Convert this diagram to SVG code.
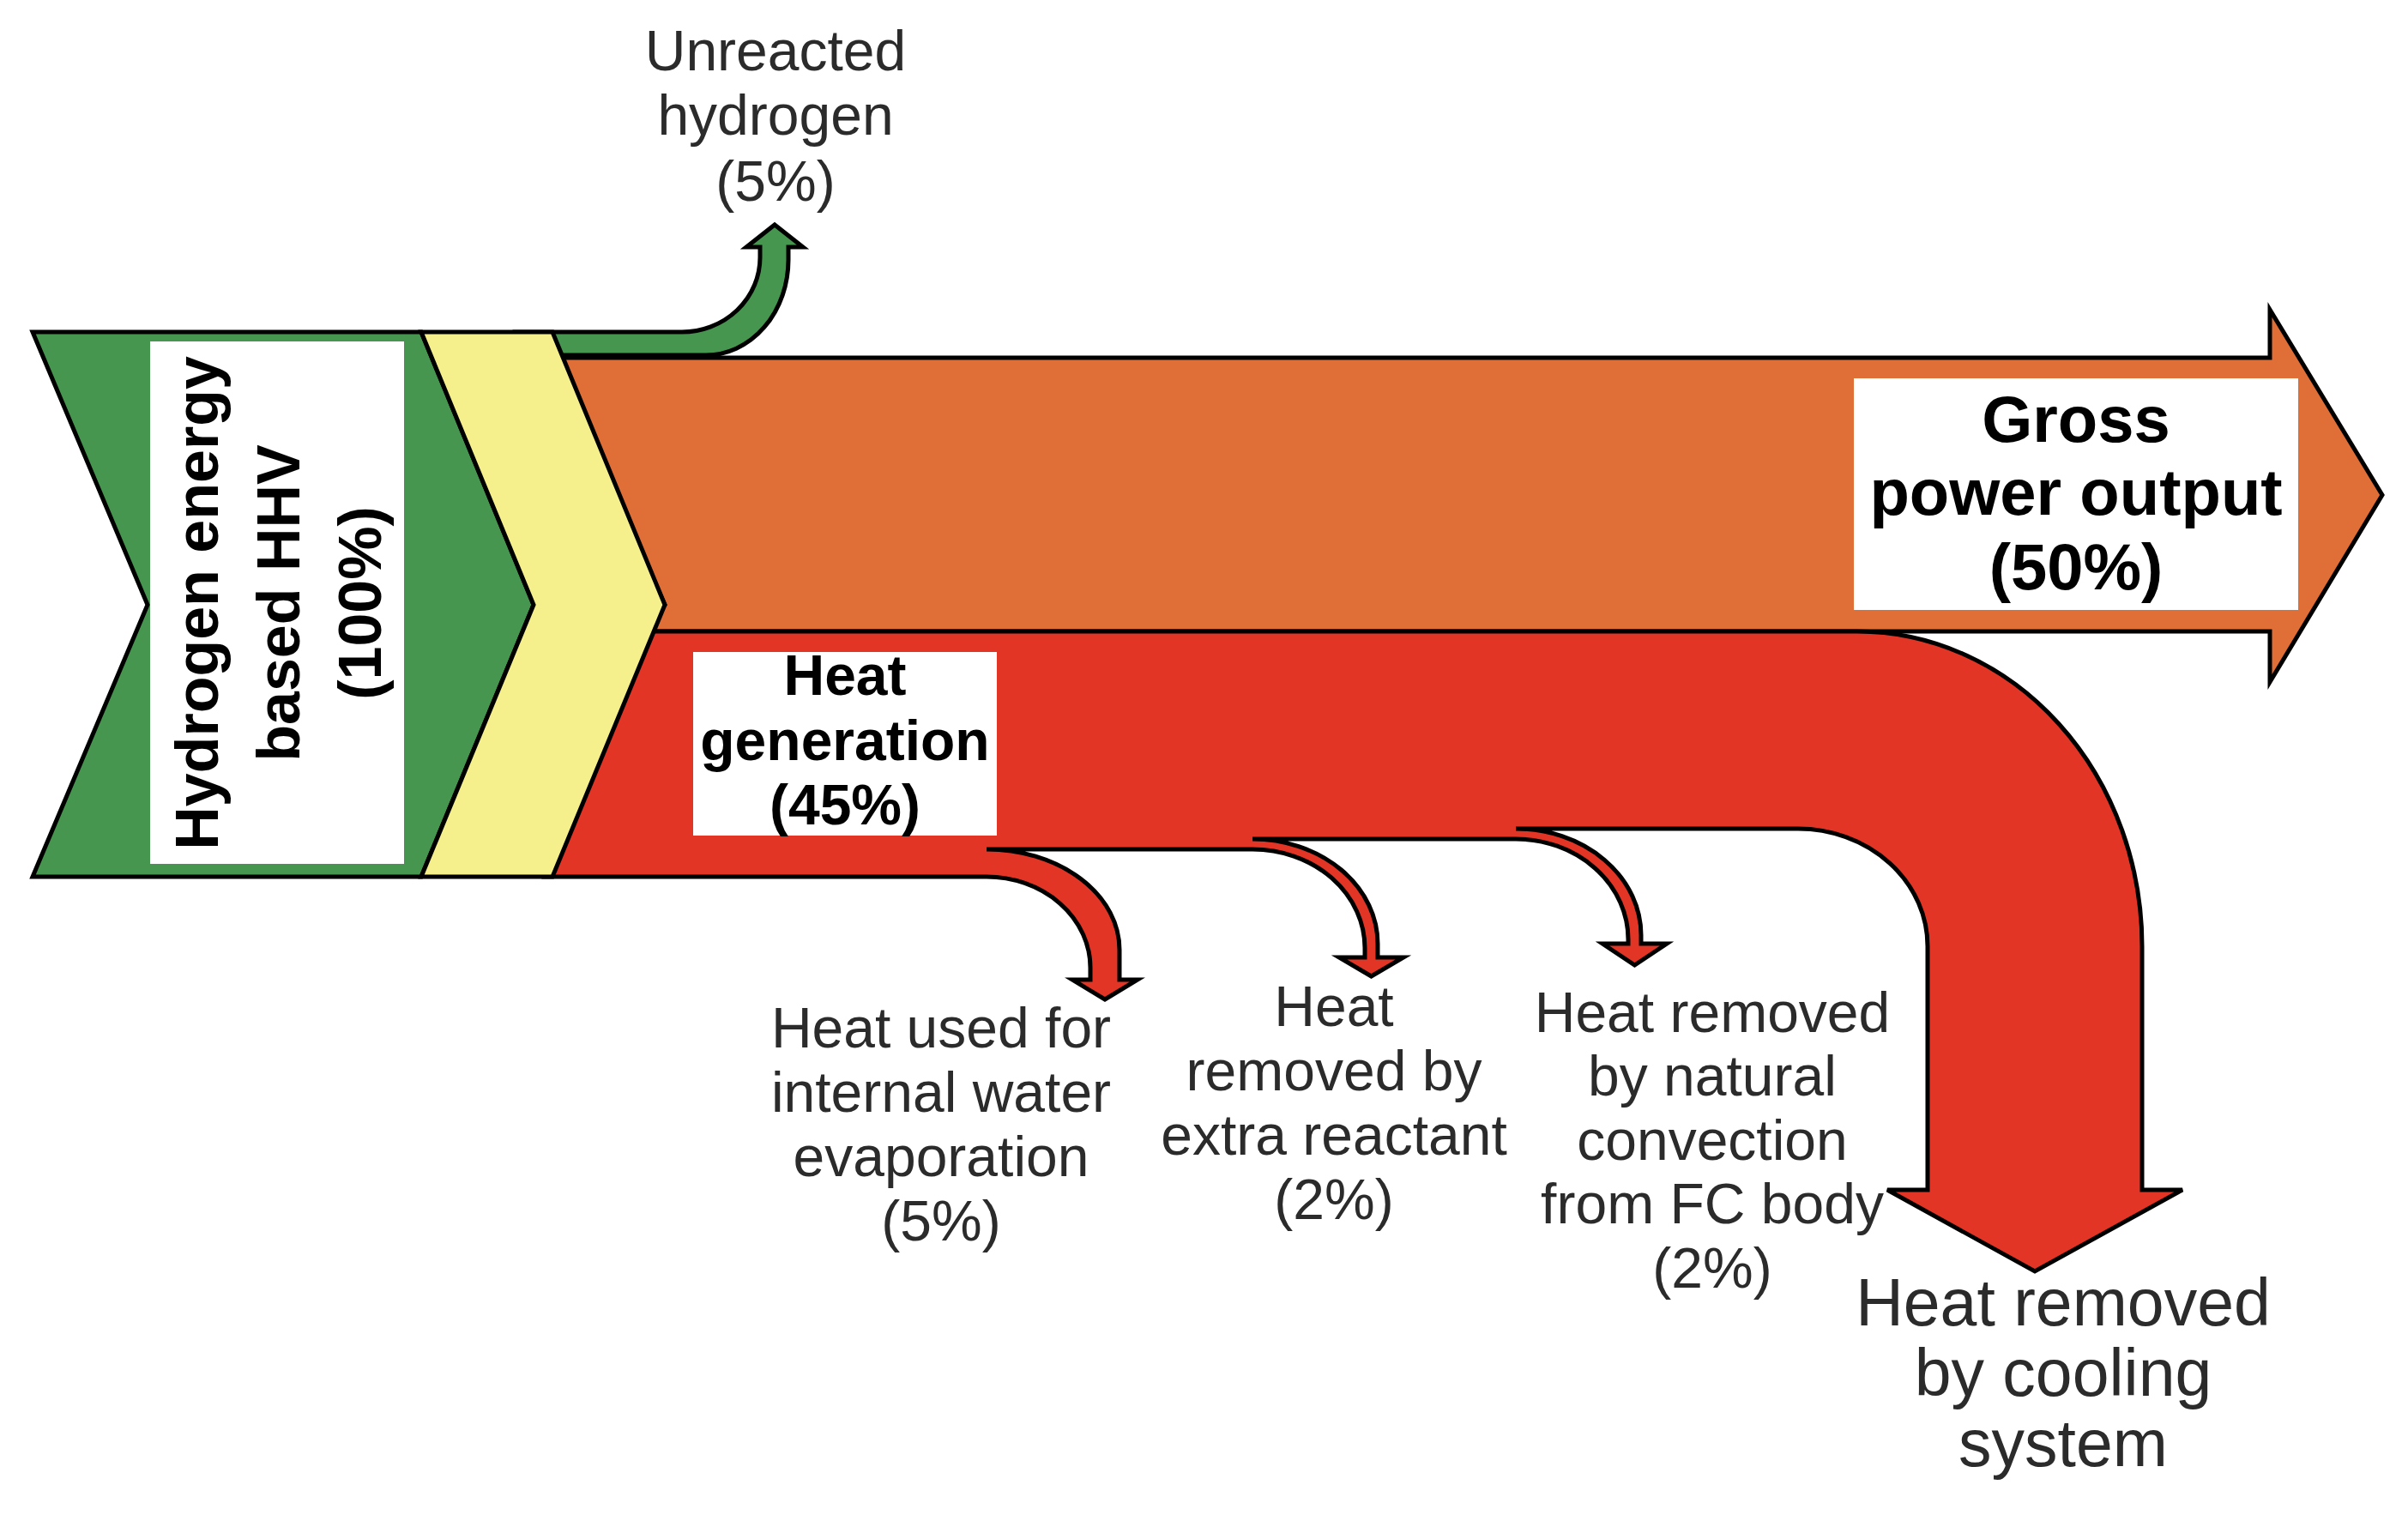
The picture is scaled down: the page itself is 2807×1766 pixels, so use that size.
<svg xmlns="http://www.w3.org/2000/svg" width="2807" height="1766" viewBox="0 0 2807 1766">
<style>
.ol{stroke:#000;stroke-width:5;stroke-linejoin:miter}
.box{fill:#fff}
.t{font-family:"Liberation Sans",Arial,sans-serif;fill:#2b2b2b;font-size:66px;text-anchor:middle}
.tc{font-family:"Liberation Sans",Arial,sans-serif;fill:#2b2b2b;font-size:77px;text-anchor:middle}
.b{font-family:"Liberation Sans",Arial,sans-serif;fill:#000;font-weight:bold;text-anchor:middle}
</style>
<rect width="2807" height="1766" fill="#fff"/>
<g id="connectors">
  <path id="flow-unreacted" class="ol" fill="#47964F" d="M600 387 H795 A91 87 0 0 0 886 300 V288 H870 L903 262 L936 288 H919 V303 A96 111 0 0 1 823 414 H600 Z"/>
  <path id="flow-power" class="ol" fill="#E06F37" d="M650 417 H2646 V361 L2777 577 L2646 795 V736 H755 L775 705 Z"/>
  <path id="flow-heat" class="ol" fill="#E33525" d="M755 736 H2165 A332 367 0 0 1 2497 1103 V1387 H2544 L2372 1482 L2200 1387 H2247 V1103 A151 137 0 0 0 2096 966 H1767 A146 124 0 0 1 1913 1090 V1100 H1943 L1905.5 1125 L1868 1100 H1898 V1095 A131 117 0 0 0 1767 978 H1460 A146 122 0 0 1 1606 1100 V1116 H1636 L1598.5 1138 L1561 1116 H1591 V1105 A131 115 0 0 0 1460 990 H1150 A155 117 0 0 1 1305 1107 V1142 H1326 L1288 1165 L1250 1142 H1271 V1128 A121 106 0 0 0 1150 1022 H635 Z"/>
</g>
<g id="node-hydrogen">
  <polygon class="ol" fill="#47964F" points="38,387 491,387 622,705 491,1022 38,1022 172,705"/>
  <rect class="box" x="175" y="398" width="296" height="609"/>
  <text class="b" font-size="70" transform="rotate(-90 254 703)" x="254" y="703">Hydrogen energy</text>
  <text class="b" font-size="70" transform="rotate(-90 349 703)" x="349" y="703">based HHV</text>
  <text class="b" font-size="70" transform="rotate(-90 444 703)" x="444" y="703">(100%)</text>
</g>
<g id="node-stack">
  <polygon class="ol" fill="#F5EF8C" points="491,387 644,387 775,705 644,1022 491,1022 622,705"/>
</g>
<g id="node-gross">
  <rect class="box" x="2161" y="441" width="518" height="270"/>
  <text class="b" font-size="76" x="2420" y="515">Gross</text>
  <text class="b" font-size="76" x="2420" y="600">power output</text>
  <text class="b" font-size="76" x="2420" y="687">(50%)</text>
</g>
<g id="node-heatgen">
  <rect class="box" x="808" y="760" width="354" height="214"/>
  <text class="b" font-size="66" x="985" y="810">Heat</text>
  <text class="b" font-size="66" x="985" y="886">generation</text>
  <text class="b" font-size="66" x="985" y="961">(45%)</text>
</g>
<g id="node-unreacted">
  <text class="t" x="904" y="82">Unreacted</text>
  <text class="t" x="904" y="157">hydrogen</text>
  <text class="t" x="904" y="234">(5%)</text>
</g>
<g id="node-evaporation">
  <text class="t" x="1097" y="1221">Heat used for</text>
  <text class="t" x="1097" y="1296">internal water</text>
  <text class="t" x="1097" y="1371">evaporation</text>
  <text class="t" x="1097" y="1446">(5%)</text>
</g>
<g id="node-reactant">
  <text class="t" x="1555" y="1196">Heat</text>
  <text class="t" x="1555" y="1271">removed by</text>
  <text class="t" x="1555" y="1346">extra reactant</text>
  <text class="t" x="1555" y="1421">(2%)</text>
</g>
<g id="node-convection">
  <text class="t" x="1996" y="1203">Heat removed</text>
  <text class="t" x="1996" y="1277">by natural</text>
  <text class="t" x="1996" y="1352">convection</text>
  <text class="t" x="1996" y="1426">from FC body</text>
  <text class="t" x="1996" y="1501">(2%)</text>
</g>
<g id="node-cooling">
  <text class="tc" x="2405" y="1545">Heat removed</text>
  <text class="tc" x="2405" y="1627">by cooling</text>
  <text class="tc" x="2405" y="1709">system</text>
</g>
</svg>
